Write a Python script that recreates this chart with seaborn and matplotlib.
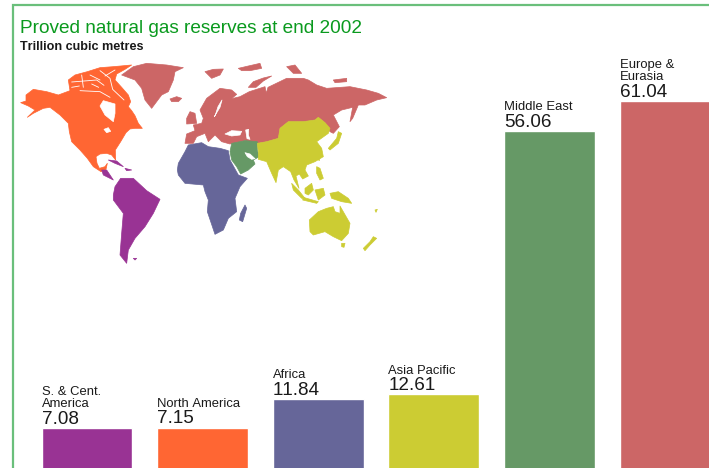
import matplotlib
matplotlib.use("Agg")
import matplotlib.pyplot as plt
import pandas as pd
import seaborn as sns

regions = ["S. & Cent.\nAmerica", "North America", "Africa", "Asia Pacific", "Middle East", "Europe &\nEurasia"]
reserves = [7.08, 7.15, 11.84, 12.61, 56.06, 61.04]
colours = ["#993394", "#ff6633", "#666699", "#cccc33", "#669966", "#cc6666"]
title_text = "Proved natural gas reserves at end 2002"
subtitle_text = "Trillion cubic metres"

# Simplified continent outlines, in map units (three per output pixel)
north_america = [
    [(62,308),(78,303),(78,285),(100,268),(140,275),(175,285),(210,272),(205,240),(225,225),(262,215),(300,203),(340,200),(395,195),(375,208),(350,222),(345,240),(365,262),(385,285),(392,305),(385,320),(395,332),(405,347),(415,370),(427,385),(405,385),(390,387),(378,398),(362,425),(346,450),(347,480),(335,465),(320,460),(300,462),(288,470),(291,490),(298,505),(315,500),(322,490),(318,508),(303,515),(280,500),(262,475),(240,450),(215,425),(208,395),(205,370),(180,345),(150,322),(130,325),(100,340),(82,352),(105,330),(85,318)],
]
arctic_channels = [
    [(245,225),(250,262)], [(300,212),(330,235),(338,268),(372,300)], [(215,246),(290,240),(312,256)],
    [(240,272),(300,275),(330,292)], [(270,225),(300,240)], [(215,262),(238,258)], [(345,210),(315,228)],
    [(275,252),(296,262)],
]
europe_eurasia = [
    [(555,430),(560,402),(585,392),(580,375),(605,370),(610,355),(600,330),(620,295),(660,265),(695,270),(710,283),(695,296),(720,290),(748,275),(795,260),(799,280),(804,262),(860,235),(910,235),(925,240),(950,255),(980,265),(1050,260),(1100,270),(1135,280),(1160,293),(1130,300),(1095,315),(1075,315),(1058,355),(1050,365),(1058,322),(1025,330),(1000,345),(1018,380),(1000,400),(990,395),(975,368),(955,352),(945,360),(910,365),(865,365),(840,385),(835,415),(800,425),(772,430),(735,422),(690,432),(665,425),(645,405),(625,425),(615,400),(590,410),(580,430)],
    [(365,225),(400,200),(440,190),(500,195),(550,203),(525,215),(520,240),(505,275),(485,285),(455,325),(435,300),(425,265),(405,240)],
    [(510,297),(530,290),(545,295),(535,305),(515,305)],
    [(615,215),(640,208),(670,207),(660,225),(635,235)],
    [(715,205),(745,198),(780,190),(785,205),(750,212),(725,212)],
    [(745,262),(760,245),(790,234),(815,228),(790,243),(768,262)],
    [(860,200),(885,195),(905,220),(880,220)],
    [(1000,240),(1040,235),(1040,245),(1005,248)],
    [(560,355),(570,335),(585,340),(590,370),(560,372)],
]
inland_waters = [
    [(675,402),(695,392),(725,394),(720,405),(695,408)],
    [(737,390),(746,388),(745,405),(750,418),(741,416)],
    [(643,350),(660,322),(666,300),(654,320),(646,345)],
    [(300,318),(310,302),(345,312),(345,340),(340,365),(315,345)],
    [(312,388),(325,383),(332,394),(320,398)],
]
africa = [
    [(532,510),(535,490),(555,455),(565,435),(605,428),(625,440),(660,445),(685,452),(690,480),(715,525),(742,535),(720,560),(705,595),(710,635),(685,655),(670,690),(645,703),(622,635),(625,600),(615,575),(610,555),(555,550),(535,525)],
    [(722,640),(735,615),(740,625),(728,665),(718,660)],
]
middle_east = [
    [(695,430),(735,422),(772,425),(772,450),(778,470),(760,480),(765,492),(745,510),(722,522),(710,500),(695,480),(690,455)],
]
gulf_waters = [
    [(735,458),(750,462),(765,476),(755,478),(742,470)],
]
asia_pacific = [
    [(775,455),(772,430),(800,425),(835,415),(840,385),(865,365),(910,365),(945,360),(955,352),(975,368),(990,385),(985,400),(950,425),(965,445),(970,470),(945,485),(920,495),(915,510),(925,528),(908,537),(898,522),(888,528),(897,565),(882,540),(872,515),(850,500),(835,510),(828,548),(815,520),(800,485),(775,478)],
    [(875,550),(895,570),(915,595),(905,595),(880,570)],
    [(910,592),(955,605),(950,610),(908,600)],
    [(915,565),(935,550),(940,570),(925,585),(915,580)],
    [(945,570),(970,565),(975,585),(955,600),(950,585)],
    [(950,500),(960,505),(970,535),(960,540),(950,520)],
    [(990,580),(1015,575),(1045,595),(1055,610),(1025,605),(995,595)],
    [(985,445),(1010,415),(1015,395),(1025,400),(1015,430),(990,450)],
    [(950,475),(958,470),(958,482)],
    [(928,660),(955,635),(980,625),(1000,620),(1005,635),(1020,640),(1020,618),(1050,670),(1045,700),(1025,722),(1000,710),(975,695),(940,705),(930,695)],
    [(1025,730),(1035,730),(1032,742),(1025,740)],
    [(1090,745),(1110,725),(1120,710),(1130,715),(1110,735),(1095,752)],
    [(1125,630),(1132,628),(1128,637)],
]
south_central_america = [
    [(340,585),(345,560),(362,535),(400,535),(440,572),(480,598),(460,640),(435,680),(405,715),(385,750),(380,790),(360,765),(365,700),(370,640),(340,600)],
    [(305,510),(320,510),(340,540),(330,535),(310,525)],
    [(325,480),(350,483),(370,500),(345,490)],
    [(375,505),(395,510),(380,512)],
    [(400,775),(410,775),(405,780)],
]

sns.set_theme(style="white")
plt.rcParams["font.family"] = ["Liberation Sans", "DejaVu Sans"]
plt.rcParams["text.kerning_factor"] = 6

fig = plt.figure(figsize=(7.09, 4.68), dpi=100, facecolor="white")

# Bars run past the lower edge, so the value axis starts slightly above zero
ax = fig.add_axes([0, 0, 1, 1])
frame = pd.DataFrame({"region": regions, "reserves": reserves})
sns.barplot(data=frame, x="region", y="reserves", hue="region", palette=colours,
            width=0.785, legend=False, saturation=1, ax=ax)
ax.set_xlim(-0.752, 5.381)
ax.set_ylim(0.48, 77.71)
ax.axis("off")

for i, (name, value) in enumerate(zip(regions, reserves)):
    left = i - 0.3925
    ax.annotate(f"{value:.2f}", (left, value), xytext=(0, 3.2), textcoords="offset points",
                fontsize=13.6, color="#1a1a1a", ha="left", va="baseline")
    ax.annotate(name, (left, value), xytext=(0, 15), textcoords="offset points",
                fontsize=9.4, color="#1a1a1a", ha="left", va="baseline", linespacing=1.03)

# World map layer
map_ax = fig.add_axes([0, 0, 1, 1])
map_ax.set_xlim(0, 2127)
map_ax.set_ylim(1404, 0)
map_ax.axis("off")
map_ax.patch.set_alpha(0)

map_layers = [
    (north_america, colours[1]), (europe_eurasia, colours[5]), (africa, colours[2]),
    (middle_east, colours[4]), (asia_pacific, colours[3]), (south_central_america, colours[0]),
    (inland_waters, "white"), (gulf_waters, "white"),
]
for shapes, colour in map_layers:
    for shape in shapes:
        xs, ys = zip(*shape)
        map_ax.fill(xs, ys, facecolor=colour, edgecolor=colour, linewidth=0.5, joinstyle="round")

for channel in arctic_channels:
    xs, ys = zip(*channel)
    map_ax.plot(xs, ys, color="white", linewidth=0.6)

# Green frame along the top and left edges
frame_colour = "#6abf7b"
map_ax.plot([40, 40, 2127], [1404, 14, 14], color=frame_colour, linewidth=1.6,
            solid_joinstyle="miter")

fig.text(20 / 709, 1 - 33 / 468, title_text, fontsize=13.7, color="#0a9a1e", ha="left", va="baseline")
fig.text(20 / 709, 1 - 50 / 468, subtitle_text, fontsize=9.1, fontweight="bold", color="#1a1a1a",
         ha="left", va="baseline")

fig.savefig("out.png", dpi=100, facecolor="white")
